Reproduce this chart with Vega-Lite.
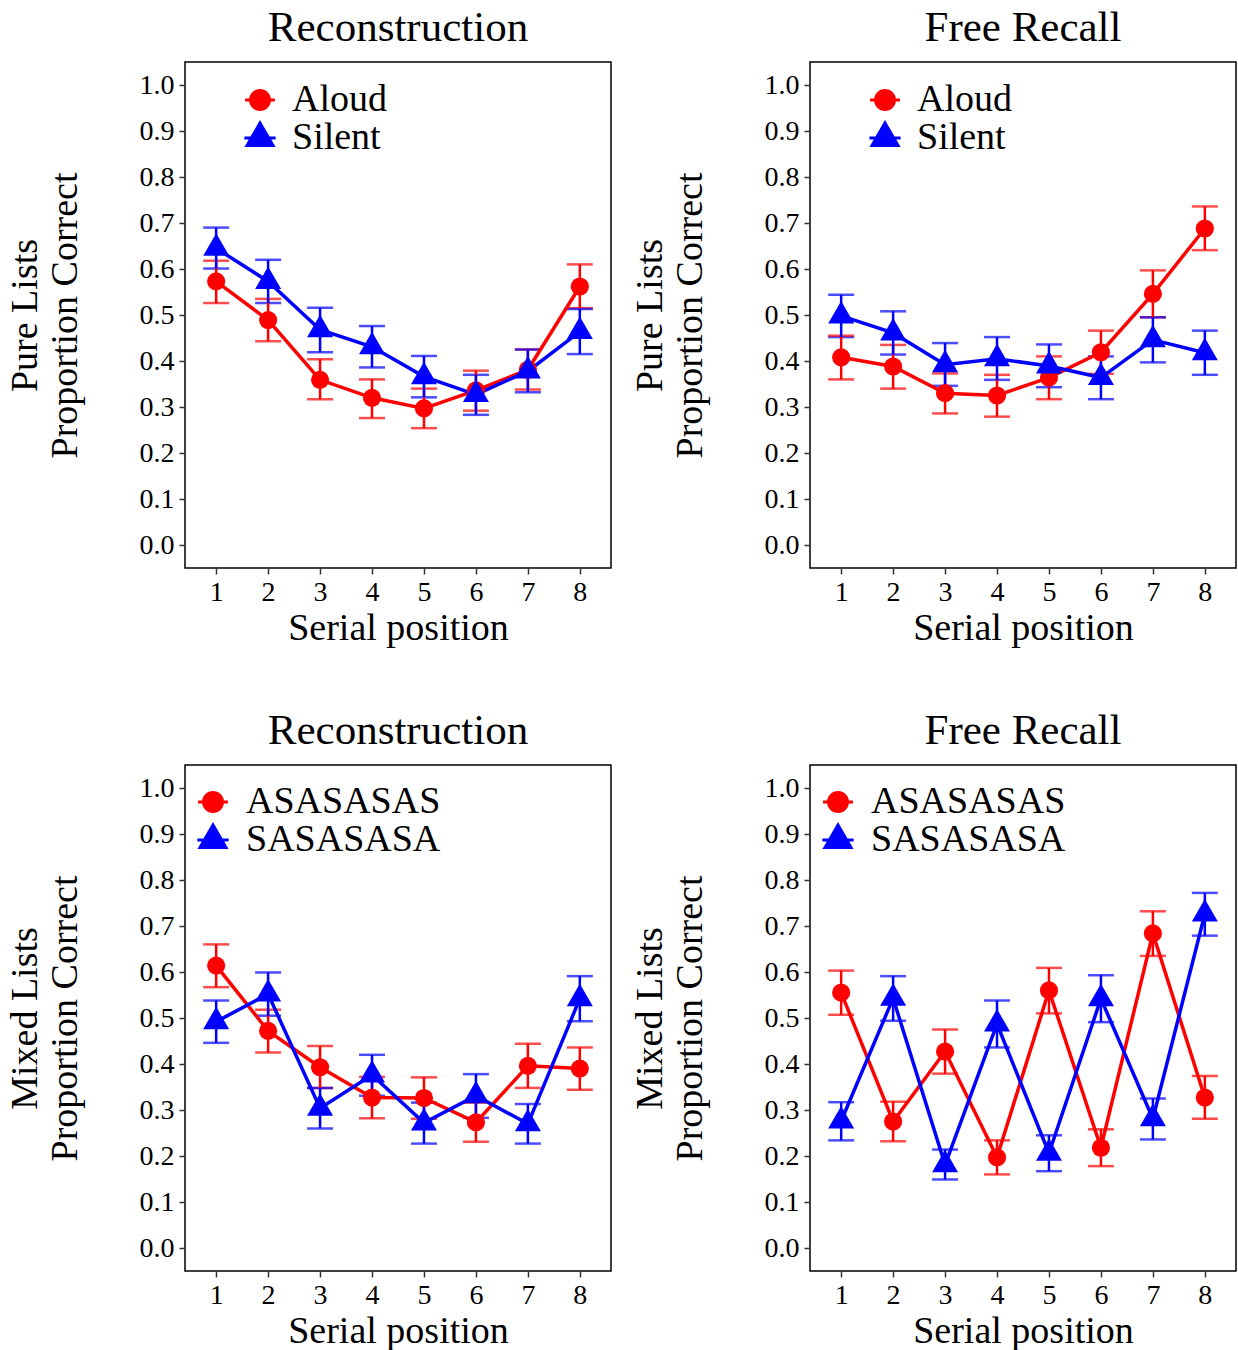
{
  "$schema": "https://vega.github.io/schema/vega-lite/v6.json",
  "padding": {"left": 5, "top": 6, "right": 2, "bottom": 0},
  "background": "white",
  "datasets": {
    "d": [
      {"panel": "p1", "cond": "Aloud", "pos": 1, "mean": 0.573, "lo": 0.526, "hi": 0.618},
      {"panel": "p1", "cond": "Aloud", "pos": 2, "mean": 0.489, "lo": 0.443, "hi": 0.535},
      {"panel": "p1", "cond": "Aloud", "pos": 3, "mean": 0.359, "lo": 0.317, "hi": 0.404},
      {"panel": "p1", "cond": "Aloud", "pos": 4, "mean": 0.320, "lo": 0.276, "hi": 0.360},
      {"panel": "p1", "cond": "Aloud", "pos": 5, "mean": 0.297, "lo": 0.254, "hi": 0.340},
      {"panel": "p1", "cond": "Aloud", "pos": 6, "mean": 0.336, "lo": 0.292, "hi": 0.379},
      {"panel": "p1", "cond": "Aloud", "pos": 7, "mean": 0.381, "lo": 0.338, "hi": 0.425},
      {"panel": "p1", "cond": "Aloud", "pos": 8, "mean": 0.562, "lo": 0.515, "hi": 0.610},
      {"panel": "p1", "cond": "Silent", "pos": 1, "mean": 0.645, "lo": 0.601, "hi": 0.690},
      {"panel": "p1", "cond": "Silent", "pos": 2, "mean": 0.573, "lo": 0.526, "hi": 0.620},
      {"panel": "p1", "cond": "Silent", "pos": 3, "mean": 0.468, "lo": 0.419, "hi": 0.516},
      {"panel": "p1", "cond": "Silent", "pos": 4, "mean": 0.431, "lo": 0.386, "hi": 0.476},
      {"panel": "p1", "cond": "Silent", "pos": 5, "mean": 0.366, "lo": 0.321, "hi": 0.411},
      {"panel": "p1", "cond": "Silent", "pos": 6, "mean": 0.327, "lo": 0.283, "hi": 0.370},
      {"panel": "p1", "cond": "Silent", "pos": 7, "mean": 0.378, "lo": 0.332, "hi": 0.425},
      {"panel": "p1", "cond": "Silent", "pos": 8, "mean": 0.464, "lo": 0.415, "hi": 0.513},
      {"panel": "p2", "cond": "Aloud", "pos": 1, "mean": 0.408, "lo": 0.360, "hi": 0.455},
      {"panel": "p2", "cond": "Aloud", "pos": 2, "mean": 0.388, "lo": 0.340, "hi": 0.435},
      {"panel": "p2", "cond": "Aloud", "pos": 3, "mean": 0.330, "lo": 0.286, "hi": 0.373},
      {"panel": "p2", "cond": "Aloud", "pos": 4, "mean": 0.325, "lo": 0.279, "hi": 0.370},
      {"panel": "p2", "cond": "Aloud", "pos": 5, "mean": 0.364, "lo": 0.317, "hi": 0.410},
      {"panel": "p2", "cond": "Aloud", "pos": 6, "mean": 0.419, "lo": 0.372, "hi": 0.466},
      {"panel": "p2", "cond": "Aloud", "pos": 7, "mean": 0.546, "lo": 0.495, "hi": 0.597},
      {"panel": "p2", "cond": "Aloud", "pos": 8, "mean": 0.688, "lo": 0.641, "hi": 0.736},
      {"panel": "p2", "cond": "Silent", "pos": 1, "mean": 0.498, "lo": 0.452, "hi": 0.544},
      {"panel": "p2", "cond": "Silent", "pos": 2, "mean": 0.461, "lo": 0.414, "hi": 0.508},
      {"panel": "p2", "cond": "Silent", "pos": 3, "mean": 0.392, "lo": 0.346, "hi": 0.439},
      {"panel": "p2", "cond": "Silent", "pos": 4, "mean": 0.405, "lo": 0.359, "hi": 0.452},
      {"panel": "p2", "cond": "Silent", "pos": 5, "mean": 0.389, "lo": 0.343, "hi": 0.436},
      {"panel": "p2", "cond": "Silent", "pos": 6, "mean": 0.364, "lo": 0.317, "hi": 0.410},
      {"panel": "p2", "cond": "Silent", "pos": 7, "mean": 0.446, "lo": 0.397, "hi": 0.495},
      {"panel": "p2", "cond": "Silent", "pos": 8, "mean": 0.418, "lo": 0.370, "hi": 0.466},
      {"panel": "p3", "cond": "ASASASAS", "pos": 1, "mean": 0.614, "lo": 0.567, "hi": 0.660},
      {"panel": "p3", "cond": "ASASASAS", "pos": 2, "mean": 0.472, "lo": 0.425, "hi": 0.518},
      {"panel": "p3", "cond": "ASASASAS", "pos": 3, "mean": 0.393, "lo": 0.348, "hi": 0.439},
      {"panel": "p3", "cond": "ASASASAS", "pos": 4, "mean": 0.327, "lo": 0.282, "hi": 0.372},
      {"panel": "p3", "cond": "ASASASAS", "pos": 5, "mean": 0.326, "lo": 0.281, "hi": 0.371},
      {"panel": "p3", "cond": "ASASASAS", "pos": 6, "mean": 0.273, "lo": 0.231, "hi": 0.316},
      {"panel": "p3", "cond": "ASASASAS", "pos": 7, "mean": 0.396, "lo": 0.348, "hi": 0.444},
      {"panel": "p3", "cond": "ASASASAS", "pos": 8, "mean": 0.390, "lo": 0.344, "hi": 0.436},
      {"panel": "p3", "cond": "SASASASA", "pos": 1, "mean": 0.492, "lo": 0.446, "hi": 0.538},
      {"panel": "p3", "cond": "SASASASA", "pos": 2, "mean": 0.552, "lo": 0.505, "hi": 0.599},
      {"panel": "p3", "cond": "SASASASA", "pos": 3, "mean": 0.304, "lo": 0.260, "hi": 0.348},
      {"panel": "p3", "cond": "SASASASA", "pos": 4, "mean": 0.376, "lo": 0.331, "hi": 0.420},
      {"panel": "p3", "cond": "SASASASA", "pos": 5, "mean": 0.272, "lo": 0.227, "hi": 0.316},
      {"panel": "p3", "cond": "SASASASA", "pos": 6, "mean": 0.331, "lo": 0.283, "hi": 0.378},
      {"panel": "p3", "cond": "SASASASA", "pos": 7, "mean": 0.270, "lo": 0.227, "hi": 0.313},
      {"panel": "p3", "cond": "SASASASA", "pos": 8, "mean": 0.542, "lo": 0.493, "hi": 0.591},
      {"panel": "p4", "cond": "ASASASAS", "pos": 1, "mean": 0.555, "lo": 0.507, "hi": 0.603},
      {"panel": "p4", "cond": "ASASASAS", "pos": 2, "mean": 0.275, "lo": 0.232, "hi": 0.318},
      {"panel": "p4", "cond": "ASASASAS", "pos": 3, "mean": 0.427, "lo": 0.379, "hi": 0.475},
      {"panel": "p4", "cond": "ASASASAS", "pos": 4, "mean": 0.197, "lo": 0.160, "hi": 0.234},
      {"panel": "p4", "cond": "ASASASAS", "pos": 5, "mean": 0.560, "lo": 0.510, "hi": 0.609},
      {"panel": "p4", "cond": "ASASASAS", "pos": 6, "mean": 0.218, "lo": 0.178, "hi": 0.258},
      {"panel": "p4", "cond": "ASASASAS", "pos": 7, "mean": 0.684, "lo": 0.635, "hi": 0.732},
      {"panel": "p4", "cond": "ASASASAS", "pos": 8, "mean": 0.327, "lo": 0.281, "hi": 0.374},
      {"panel": "p4", "cond": "SASASASA", "pos": 1, "mean": 0.276, "lo": 0.234, "hi": 0.317},
      {"panel": "p4", "cond": "SASASASA", "pos": 2, "mean": 0.543, "lo": 0.494, "hi": 0.591},
      {"panel": "p4", "cond": "SASASASA", "pos": 3, "mean": 0.181, "lo": 0.149, "hi": 0.214},
      {"panel": "p4", "cond": "SASASASA", "pos": 4, "mean": 0.487, "lo": 0.436, "hi": 0.538},
      {"panel": "p4", "cond": "SASASASA", "pos": 5, "mean": 0.206, "lo": 0.167, "hi": 0.245},
      {"panel": "p4", "cond": "SASASASA", "pos": 6, "mean": 0.542, "lo": 0.491, "hi": 0.593},
      {"panel": "p4", "cond": "SASASASA", "pos": 7, "mean": 0.281, "lo": 0.236, "hi": 0.325},
      {"panel": "p4", "cond": "SASASASA", "pos": 8, "mean": 0.726, "lo": 0.679, "hi": 0.772}
    ]
  },
  "data": {"name": "d"},
  "columns": 2,
  "spacing": {"column": 18, "row": 61},
  "resolve": {
    "scale": {"color": "independent", "shape": "independent", "size": "independent", "stroke": "independent", "x": "independent", "y": "independent"},
    "legend": {"color": "independent", "shape": "independent", "stroke": "independent"}
  },
  "concat": [
    {
      "title": "Reconstruction",
      "width": 426, "height": 506,
      "transform": [{"filter": "datum.panel === 'p1'"}],
      "resolve": {"scale": {"color": "independent", "shape": "independent", "stroke": "independent"}},
      "encoding": {
        "x": {"field": "pos", "type": "quantitative", "scale": {"domain": [0.4, 8.6], "nice": false, "zero": false},
              "axis": {"values": [1,2,3,4,5,6,7,8], "title": "Serial position", "format": "d"}},
        "color": {"field": "cond", "type": "nominal", "scale": {"domain": ["Aloud", "Silent"], "range": ["#ff0000", "#0000ff"]}, "legend": null}
      },
      "layer": [
        {"mark": {"type": "errorbar", "thickness": 2.5, "ticks": {"size": 26, "thickness": 2.5}},
         "encoding": {"y": {"field": "lo", "type": "quantitative", "scale": {"domain": [-0.05, 1.05], "nice": false, "zero": false},
                            "axis": {"values": [0,0.1,0.2,0.3,0.4,0.5,0.6,0.7,0.8,0.9,1.0], "format": ".1f", "title": ["Pure Lists", "Proportion Correct"]}},
                      "y2": {"field": "hi"}}},
        {"mark": {"type": "line", "strokeWidth": 3.5}, "encoding": {"y": {"field": "mean", "type": "quantitative"}}},
        {"mark": {"type": "point", "filled": true, "opacity": 1},
         "encoding": {"y": {"field": "mean", "type": "quantitative"},
                      "size": {"field": "cond", "type": "nominal", "scale": {"domain": ["Aloud", "Silent"], "range": [330, 676]}, "legend": null},
                      "shape": {"field": "cond", "type": "nominal", "legend": null,
                                "scale": {"domain": ["Aloud", "Silent"], "range": ["circle", "M0,-1.155L1,0.577L-1,0.577Z"]}}}},
        {"mark": {"type": "point", "filled": true, "opacity": 0},
         "encoding": {"y": {"field": "mean", "type": "quantitative"},
                      "color": {"field": "cond", "type": "nominal", "scale": {"domain": ["Aloud", "Silent"], "range": ["#ff0000", "#0000ff"]},
                                "legend": {"orient": "none", "legendX": 56, "legendY": 19, "labelOffset": 13}},
                      "stroke": {"field": "cond", "type": "nominal", "scale": {"domain": ["Aloud", "Silent"], "range": ["#ff0000", "#0000ff"]},
                                "legend": {"orient": "none", "legendX": 56, "legendY": 19, "labelOffset": 13}},
                      "shape": {"field": "cond", "type": "nominal",
                                "scale": {"domain": ["Aloud", "Silent"], "range": ["M-0.73,0A0.73,0.73,0,1,1,0.73,0A0.73,0.73,0,1,1,-0.73,0ZM-1.15,0L1.15,0", "M0,-1.155L1,0.577L-1,0.577ZM-1.2,0L1.2,0"]},
                                "legend": {"orient": "none", "legendX": 56, "legendY": 19, "labelOffset": 13}}}}
      ]
    },
    {
      "title": "Free Recall",
      "width": 426, "height": 506,
      "transform": [{"filter": "datum.panel === 'p2'"}],
      "resolve": {"scale": {"color": "independent", "shape": "independent", "stroke": "independent"}},
      "encoding": {
        "x": {"field": "pos", "type": "quantitative", "scale": {"domain": [0.4, 8.6], "nice": false, "zero": false},
              "axis": {"values": [1,2,3,4,5,6,7,8], "title": "Serial position", "format": "d"}},
        "color": {"field": "cond", "type": "nominal", "scale": {"domain": ["Aloud", "Silent"], "range": ["#ff0000", "#0000ff"]}, "legend": null}
      },
      "layer": [
        {"mark": {"type": "errorbar", "thickness": 2.5, "ticks": {"size": 26, "thickness": 2.5}},
         "encoding": {"y": {"field": "lo", "type": "quantitative", "scale": {"domain": [-0.05, 1.05], "nice": false, "zero": false},
                            "axis": {"values": [0,0.1,0.2,0.3,0.4,0.5,0.6,0.7,0.8,0.9,1.0], "format": ".1f", "title": ["Pure Lists", "Proportion Correct"]}},
                      "y2": {"field": "hi"}}},
        {"mark": {"type": "line", "strokeWidth": 3.5}, "encoding": {"y": {"field": "mean", "type": "quantitative"}}},
        {"mark": {"type": "point", "filled": true, "opacity": 1},
         "encoding": {"y": {"field": "mean", "type": "quantitative"},
                      "size": {"field": "cond", "type": "nominal", "scale": {"domain": ["Aloud", "Silent"], "range": [330, 676]}, "legend": null},
                      "shape": {"field": "cond", "type": "nominal", "legend": null,
                                "scale": {"domain": ["Aloud", "Silent"], "range": ["circle", "M0,-1.155L1,0.577L-1,0.577Z"]}}}},
        {"mark": {"type": "point", "filled": true, "opacity": 0},
         "encoding": {"y": {"field": "mean", "type": "quantitative"},
                      "color": {"field": "cond", "type": "nominal", "scale": {"domain": ["Aloud", "Silent"], "range": ["#ff0000", "#0000ff"]},
                                "legend": {"orient": "none", "legendX": 56, "legendY": 19, "labelOffset": 13}},
                      "stroke": {"field": "cond", "type": "nominal", "scale": {"domain": ["Aloud", "Silent"], "range": ["#ff0000", "#0000ff"]},
                                "legend": {"orient": "none", "legendX": 56, "legendY": 19, "labelOffset": 13}},
                      "shape": {"field": "cond", "type": "nominal",
                                "scale": {"domain": ["Aloud", "Silent"], "range": ["M-0.73,0A0.73,0.73,0,1,1,0.73,0A0.73,0.73,0,1,1,-0.73,0ZM-1.15,0L1.15,0", "M0,-1.155L1,0.577L-1,0.577ZM-1.2,0L1.2,0"]},
                                "legend": {"orient": "none", "legendX": 56, "legendY": 19, "labelOffset": 13}}}}
      ]
    },
    {
      "title": "Reconstruction",
      "width": 426, "height": 506,
      "transform": [{"filter": "datum.panel === 'p3'"}],
      "resolve": {"scale": {"color": "independent", "shape": "independent", "stroke": "independent"}},
      "encoding": {
        "x": {"field": "pos", "type": "quantitative", "scale": {"domain": [0.4, 8.6], "nice": false, "zero": false},
              "axis": {"values": [1,2,3,4,5,6,7,8], "title": "Serial position", "format": "d"}},
        "color": {"field": "cond", "type": "nominal", "scale": {"domain": ["ASASASAS", "SASASASA"], "range": ["#ff0000", "#0000ff"]}, "legend": null}
      },
      "layer": [
        {"mark": {"type": "errorbar", "thickness": 2.5, "ticks": {"size": 26, "thickness": 2.5}},
         "encoding": {"y": {"field": "lo", "type": "quantitative", "scale": {"domain": [-0.05, 1.05], "nice": false, "zero": false},
                            "axis": {"values": [0,0.1,0.2,0.3,0.4,0.5,0.6,0.7,0.8,0.9,1.0], "format": ".1f", "title": ["Mixed Lists", "Proportion Correct"]}},
                      "y2": {"field": "hi"}}},
        {"mark": {"type": "line", "strokeWidth": 3.5}, "encoding": {"y": {"field": "mean", "type": "quantitative"}}},
        {"mark": {"type": "point", "filled": true, "opacity": 1},
         "encoding": {"y": {"field": "mean", "type": "quantitative"},
                      "size": {"field": "cond", "type": "nominal", "scale": {"domain": ["ASASASAS", "SASASASA"], "range": [330, 676]}, "legend": null},
                      "shape": {"field": "cond", "type": "nominal", "legend": null,
                                "scale": {"domain": ["ASASASAS", "SASASASA"], "range": ["circle", "M0,-1.155L1,0.577L-1,0.577Z"]}}}},
        {"mark": {"type": "point", "filled": true, "opacity": 0},
         "encoding": {"y": {"field": "mean", "type": "quantitative"},
                      "color": {"field": "cond", "type": "nominal", "scale": {"domain": ["ASASASAS", "SASASASA"], "range": ["#ff0000", "#0000ff"]},
                                "legend": {"orient": "none", "legendX": 9, "legendY": 18, "labelOffset": 14}},
                      "stroke": {"field": "cond", "type": "nominal", "scale": {"domain": ["ASASASAS", "SASASASA"], "range": ["#ff0000", "#0000ff"]},
                                "legend": {"orient": "none", "legendX": 9, "legendY": 18, "labelOffset": 14}},
                      "shape": {"field": "cond", "type": "nominal",
                                "scale": {"domain": ["ASASASAS", "SASASASA"], "range": ["M-0.73,0A0.73,0.73,0,1,1,0.73,0A0.73,0.73,0,1,1,-0.73,0ZM-1.15,0L1.15,0", "M0,-1.155L1,0.577L-1,0.577ZM-1.2,0L1.2,0"]},
                                "legend": {"orient": "none", "legendX": 9, "legendY": 18, "labelOffset": 14}}}}
      ]
    },
    {
      "title": "Free Recall",
      "width": 426, "height": 506,
      "transform": [{"filter": "datum.panel === 'p4'"}],
      "resolve": {"scale": {"color": "independent", "shape": "independent", "stroke": "independent"}},
      "encoding": {
        "x": {"field": "pos", "type": "quantitative", "scale": {"domain": [0.4, 8.6], "nice": false, "zero": false},
              "axis": {"values": [1,2,3,4,5,6,7,8], "title": "Serial position", "format": "d"}},
        "color": {"field": "cond", "type": "nominal", "scale": {"domain": ["ASASASAS", "SASASASA"], "range": ["#ff0000", "#0000ff"]}, "legend": null}
      },
      "layer": [
        {"mark": {"type": "errorbar", "thickness": 2.5, "ticks": {"size": 26, "thickness": 2.5}},
         "encoding": {"y": {"field": "lo", "type": "quantitative", "scale": {"domain": [-0.05, 1.05], "nice": false, "zero": false},
                            "axis": {"values": [0,0.1,0.2,0.3,0.4,0.5,0.6,0.7,0.8,0.9,1.0], "format": ".1f", "title": ["Mixed Lists", "Proportion Correct"]}},
                      "y2": {"field": "hi"}}},
        {"mark": {"type": "line", "strokeWidth": 3.5}, "encoding": {"y": {"field": "mean", "type": "quantitative"}}},
        {"mark": {"type": "point", "filled": true, "opacity": 1},
         "encoding": {"y": {"field": "mean", "type": "quantitative"},
                      "size": {"field": "cond", "type": "nominal", "scale": {"domain": ["ASASASAS", "SASASASA"], "range": [330, 676]}, "legend": null},
                      "shape": {"field": "cond", "type": "nominal", "legend": null,
                                "scale": {"domain": ["ASASASAS", "SASASASA"], "range": ["circle", "M0,-1.155L1,0.577L-1,0.577Z"]}}}},
        {"mark": {"type": "point", "filled": true, "opacity": 0},
         "encoding": {"y": {"field": "mean", "type": "quantitative"},
                      "color": {"field": "cond", "type": "nominal", "scale": {"domain": ["ASASASAS", "SASASASA"], "range": ["#ff0000", "#0000ff"]},
                                "legend": {"orient": "none", "legendX": 9, "legendY": 18, "labelOffset": 14}},
                      "stroke": {"field": "cond", "type": "nominal", "scale": {"domain": ["ASASASAS", "SASASASA"], "range": ["#ff0000", "#0000ff"]},
                                "legend": {"orient": "none", "legendX": 9, "legendY": 18, "labelOffset": 14}},
                      "shape": {"field": "cond", "type": "nominal",
                                "scale": {"domain": ["ASASASAS", "SASASASA"], "range": ["M-0.73,0A0.73,0.73,0,1,1,0.73,0A0.73,0.73,0,1,1,-0.73,0ZM-1.15,0L1.15,0", "M0,-1.155L1,0.577L-1,0.577ZM-1.2,0L1.2,0"]},
                                "legend": {"orient": "none", "legendX": 9, "legendY": 18, "labelOffset": 14}}}}
      ]
    }
  ],
  "config": {
    "font": "Liberation Serif",
    "view": {"stroke": "black", "strokeWidth": 1.5},
    "title": {"fontSize": 43, "fontWeight": "normal", "color": "black", "offset": 12, "anchor": "middle"},
    "axis": {"labelFontSize": 28, "titleFontSize": 38, "titleFontWeight": "normal", "labelColor": "black", "titleColor": "black",
             "tickColor": "#333333", "tickSize": 6, "tickWidth": 1.5, "domain": false, "grid": false, "labelPadding": 5},
    "axisX": {"titlePadding": 3, "labelPadding": 4},
    "axisY": {"titlePadding": 55, "titleLineHeight": 40},
    "legend": {"title": null, "labelFontSize": 38, "labelColor": "black", "labelLimit": 0, "padding": 0, "rowPadding": -4, "symbolSize": 676, "symbolOpacity": 1, "symbolStrokeWidth": 3}
  }
}
